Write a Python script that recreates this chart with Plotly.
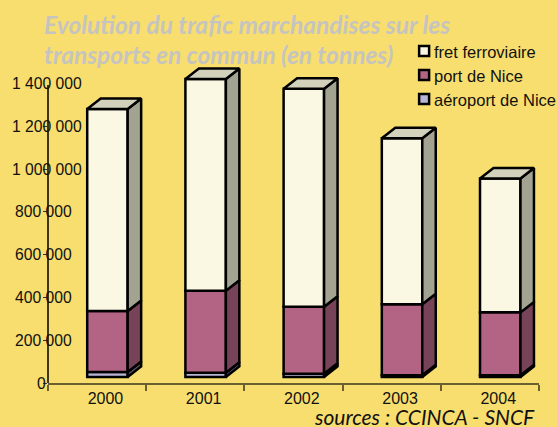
import plotly.graph_objects as go

years = [2000, 2001, 2002, 2003, 2004]
airport = [23000, 20000, 15000, 8000, 8000]
port = [285000, 383000, 313000, 332000, 294000]
freight = [944000, 990000, 1019000, 776000, 626000]
y_ticks = [0, 200000, 400000, 600000, 800000, 1000000, 1200000, 1400000]
y_labels = ["0", "200 000", "400 000", "600 000", "800 000", "1 000 000", "1 200 000", "1 400 000"]
series_names = ["fret ferroviaire", "port de Nice", "aéroport de Nice"]

W, H = 557, 427
L, R, T, B = 47.5, 18, 60, 44
PX_PER_YEAR = 98.3
PX_PER_UNIT = 42.8 / 200000
FONT = "Liberation Sans, Arial, sans-serif"
TITLE_FONT = "Lato"
BG = "#F8DE6E"
PW, PH = W - L - R, H - T - B
x0 = 2000 - 57.5 / PX_PER_YEAR
x1 = x0 + PW / PX_PER_YEAR
y1 = PH / PX_PER_UNIT

floor = 6 / PX_PER_UNIT
bar_w = 40.5 / PX_PER_YEAR
bar_shift = 2 / PX_PER_YEAR
dx = 13.5 / PX_PER_YEAR
dy = 10.5 / PX_PER_UNIT

styles = {
    "airport": ("#B9B5D6", "#5A5868", "#D0CDE0"),
    "port": ("#B36383", "#764358", "#C98AA3"),
    "freight": ("#FAF8E2", "#A3A391", "#D2D2BC"),
}

def fx(px):
    return (px - L) / PW

def fy(py):
    return (H - B - py) / PH

fig = go.Figure()
stack = [(airport, "airport"), (port, "port"), (freight, "freight")]
bases = [floor] * len(years)
xs = [y + bar_shift for y in years]
for values, key in stack:
    front, side, top = styles[key]
    fig.add_trace(go.Bar(x=xs, y=values, base=bases, width=bar_w, marker=dict(color=front, line=dict(color="black", width=2.5)), showlegend=False, hoverinfo="skip"))
    tops = [b + v for b, v in zip(bases, values)]
    for xc, b, t in zip(xs, bases, tops):
        xr = xc + bar_w / 2
        fig.add_trace(go.Scatter(
            x=[xr, xr + dx, xr + dx, xr, xr], y=[b, b + dy, t + dy, t, b],
            mode="lines", fill="toself", fillcolor=side, line=dict(color="black", width=2.5),
            showlegend=False, hoverinfo="skip"))
    bases = tops

for xc, t in zip(xs, bases):
    xl, xr = xc - bar_w / 2, xc + bar_w / 2
    fig.add_trace(go.Scatter(
        x=[xl, xr, xr + dx, xl + dx, xl], y=[t, t, t + dy, t + dy, t],
        mode="lines", fill="toself", fillcolor=styles["freight"][2], line=dict(color="black", width=2.5),
        showlegend=False, hoverinfo="skip"))

annotations = []
for v, label in zip(y_ticks, y_labels):
    cx = 46.5 if v >= 1000000 else (41.3 if v == 0 else 43.3)
    annotations.append(dict(text=label, xref="paper", yref="y", x=fx(cx), y=v, xanchor="center", yanchor="middle",
                            showarrow=False, font=dict(family=FONT, size=15.7, color="#111111")))

paper_text = [
    ("Evolution du trafic marchandises sur les", 41, 24, 24.5, "#C5C4C0", "bold"),
    ("transports en commun (en tonnes)", 41, 54, 24.5, "#C5C4C0", "bold"),
    ("sources : CCINCA - SNCF", 312, 416, 21, "#111111", "normal"),
]
for text, x, y, size, col, weight in paper_text:
    annotations.append(dict(text=text, xref="paper", yref="paper", x=fx(x), y=fy(y), xanchor="left", yanchor="middle",
                            showarrow=False, font=dict(family=TITLE_FONT, size=size, color=col, weight=weight, style="italic")))

shapes = [dict(type="line", xref="paper", yref="paper", x0=0, x1=0, y0=0, y1=fy(85), line=dict(color="black", width=1.5))]
legend_colors = [styles["freight"][0], styles["port"][0], styles["airport"][0]]
for name, col, y in zip(series_names, legend_colors, [51, 75, 99]):
    shapes.append(dict(type="rect", xref="paper", yref="paper",
                       x0=fx(419), x1=fx(429), y0=fy(y + 5), y1=fy(y - 5),
                       fillcolor=col, line=dict(color="black", width=2.5)))
    annotations.append(dict(text=name, xref="paper", yref="paper", x=fx(431.5), y=fy(y + 1), xanchor="left", yanchor="middle",
                            showarrow=False, font=dict(family=FONT, size=16.5, color="#111111")))

fig.update_layout(
    width=W, height=H, autosize=False,
    margin=dict(l=L, r=R, t=T, b=B, pad=0),
    paper_bgcolor=BG, plot_bgcolor=BG,
    barmode="overlay", showlegend=False,
    annotations=annotations, shapes=shapes,
    xaxis=dict(range=[x0, x1], tickmode="array", tickvals=years, ticktext=[str(y) for y in years], ticks="", showgrid=False, zeroline=False,
               showline=True, linecolor="#6B6030", linewidth=2,
               tickfont=dict(family=FONT, size=16, color="#111111"),
               minor=dict(tickmode="array", tickvals=[x0 + k for k in range(6)], ticks="outside", ticklen=6, tickwidth=1.5, tickcolor="#6B6030", showgrid=False)),
    yaxis=dict(range=[0, y1], tickmode="array", tickvals=y_ticks[:-1], ticktext=[""] * 7, ticks="outside", ticklen=4, tickwidth=1, tickcolor="#333333",
               showgrid=False, showline=False, zeroline=False),
)
fig.write_html("out.html", config={"displayModeBar": False},
               post_script="document.body.style.margin='0';document.body.style.overflow='hidden';")
